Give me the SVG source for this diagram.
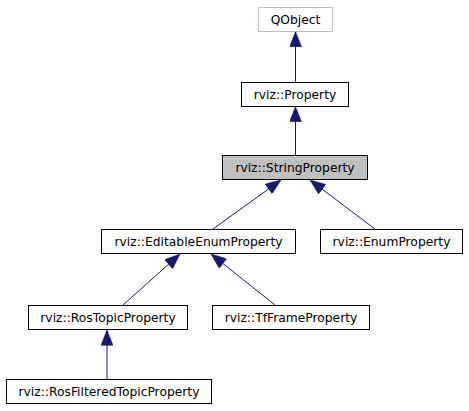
<svg xmlns="http://www.w3.org/2000/svg" width="469" height="411" viewBox="0 0 469 411">
<defs>
<style>
.node rect{fill:#ffffff;stroke:#000000;stroke-width:1}
.node text{font-family:"DejaVu Sans",sans-serif;font-size:12.3px;fill:#000000;text-anchor:middle}
#qobject rect{stroke:#bfbfbf}
#stringproperty rect{fill:#bfbfbf}
.edge{stroke:#191970;stroke-width:1;fill:none;marker-end:url(#arrow)}
</style>
<marker id="arrow" markerUnits="userSpaceOnUse" markerWidth="16" markerHeight="12" refX="14" refY="5.5" orient="auto" viewBox="0 0 14 11">
<path d="M0,0 L14,5.5 L0,11 Z" fill="#191970" stroke="#191970" stroke-width="0.5"/>
</marker>
</defs>
<rect width="469" height="411" fill="#ffffff"/>
<g id="connectors">
<line class="edge" x1="295.5" y1="82" x2="295.5" y2="31.5"/>
<line class="edge" x1="295.5" y1="155" x2="295.5" y2="106.5"/>
<line class="edge" x1="213" y1="229" x2="281" y2="180"/>
<line class="edge" x1="375" y1="229" x2="310" y2="180"/>
<line class="edge" x1="123" y1="305" x2="180" y2="254"/>
<line class="edge" x1="275" y1="305" x2="211" y2="254"/>
<line class="edge" x1="107" y1="379" x2="107" y2="330"/>
</g>
<g id="qobject" class="node"><rect x="258.5" y="7.5" width="74" height="24"/><text x="295.5" y="24">QObject</text></g>
<g id="property" class="node"><rect x="241.5" y="82.5" width="107" height="24"/><text x="295" y="99">rviz::Property</text></g>
<g id="stringproperty" class="node"><rect x="222.5" y="155.5" width="145" height="24"/><text x="295" y="172">rviz::StringProperty</text></g>
<g id="editableenumproperty" class="node"><rect x="101.5" y="229.5" width="194" height="24"/><text x="198.5" y="246">rviz::EditableEnumProperty</text></g>
<g id="enumproperty" class="node"><rect x="320.5" y="229.5" width="142" height="24"/><text x="391.5" y="246">rviz::EnumProperty</text></g>
<g id="rostopicproperty" class="node"><rect x="28.5" y="305.5" width="159" height="24"/><text x="108" y="322">rviz::RosTopicProperty</text></g>
<g id="tfframeproperty" class="node"><rect x="212.5" y="305.5" width="157" height="24"/><text x="291" y="322">rviz::TfFrameProperty</text></g>
<g id="rosfilteredtopicproperty" class="node"><rect x="6.5" y="379.5" width="205" height="24"/><text x="109" y="396">rviz::RosFilteredTopicProperty</text></g>
</svg>
